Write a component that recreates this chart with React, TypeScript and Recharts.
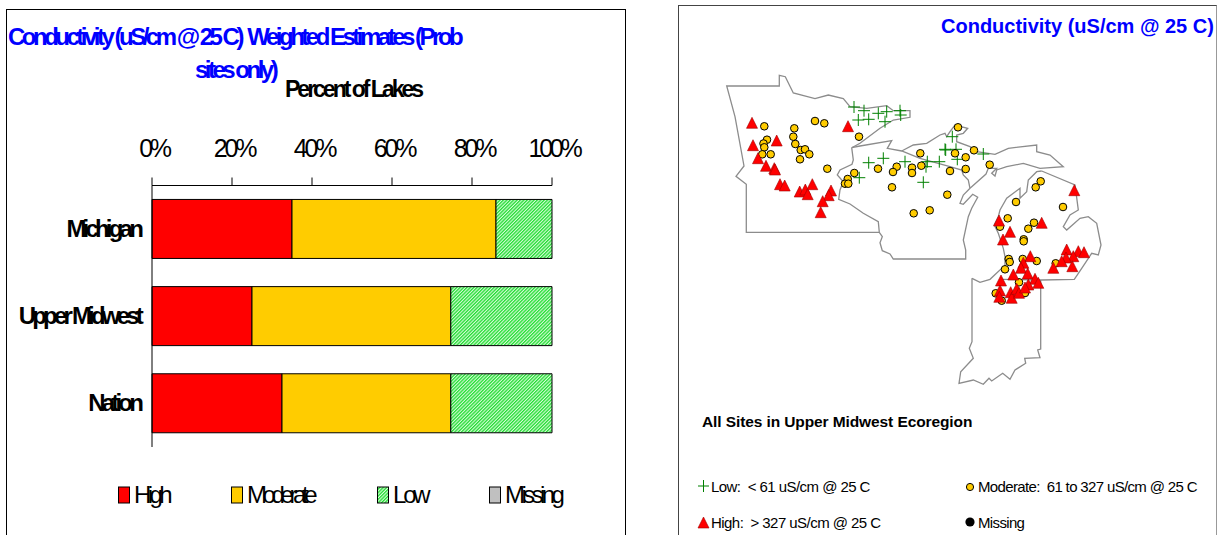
import { BarChart, Bar, XAxis, YAxis, Legend, ScatterChart, Scatter } from "recharts";

const FONT = '"Liberation Sans", Arial, sans-serif';

// left chart
const lakes = ["Michigan", "Upper Midwest", "Nation"];
const high = [35, 25, 32.5];
const moderate = [51, 49.7, 42.2];
const low = [14, 25.3, 25.3];
const missing = [0, 0, 0];
const percentTicks = [0, 20, 40, 60, 80, 100];

const barData = lakes.map((name, i) => ({
  name,
  High: high[i],
  Moderate: moderate[i],
  Low: low[i],
  Missing: missing[i],
}));

const FILLS: Record<string, string> = {
  High: "#ff0000",
  Moderate: "#ffcc00",
  Low: "url(#hatch)",
  Missing: "#c0c0c0",
};
const legendX: Record<string, number> = { High: 118, Moderate: 231, Low: 377, Missing: 489 };
const legendSpacing: Record<string, number> = { High: -3.6, Moderate: -4.4, Low: -3.2, Missing: -3.6 };

// map, values are read in page pixels
type Pt = [number, number];
const minnesotaWest: Pt[] = [
  [851.7, 147.7], [853.3, 160], [852, 164.3], [840, 170], [837.3, 175], [843.3, 181.7], [840, 190], [838.7, 199.3],
  [850, 204], [863.3, 213.3], [878.3, 221.7], [879.3, 232.3], [746.3, 232.3], [746.3, 184.3], [736, 176.3],
  [744, 166], [735, 116.7], [726.7, 86], [779.3, 86], [779.3, 75.3], [785.3, 76.7], [793.3, 93], [815, 98.7],
  [828.3, 95], [843.3, 98.7], [850, 106.7], [866.7, 108.3], [886.7, 105.7], [893.3, 110.7], [910, 110.7],
  [910, 117.3], [893.3, 120], [880, 128.3], [860, 143.3], [851.7, 147.7],
];
const wisconsin: Pt[] = [
  [851.7, 147.7], [860, 146], [891.7, 140.7], [887.3, 148.3], [901.7, 151], [920, 158.3], [950, 166.7], [961.7, 170],
  [963.3, 175], [968.3, 180], [970, 188.3],
];
const wisconsinSouth: Pt[] = [
  [879.3, 232.3], [882.3, 236.7], [880, 242.7], [882.3, 250.7], [890, 254], [893.3, 259], [965.7, 259], [965.7, 250],
  [963.3, 240], [968.3, 216.7], [971.7, 208.3], [977.7, 197.3], [972.7, 194.3], [963.3, 204.3], [960, 203.3],
  [963.3, 195], [970, 188.3],
];
const upperPeninsula: Pt[] = [
  [901.7, 151], [913.3, 145], [926.7, 143.3], [940, 135], [945, 133.3], [946.7, 136.7], [950, 131.7], [955, 125],
  [967.7, 128.3], [963.3, 133.3], [956.7, 135], [956.7, 141.7], [970, 146.7], [976.7, 151.7], [995, 154.3],
  [1008.3, 148.3], [1036.7, 145], [1036.7, 151.7], [1050, 155], [1063.3, 166.7], [1040, 168.3], [1023.3, 163.3],
  [1006.7, 166.7], [996.7, 170], [995, 176], [991.7, 173.3], [996.7, 168.3], [988.3, 168.3], [986, 174], [970, 188.3],
];
const lowerMichigan: Pt[] = [
  [1041.7, 171], [1036.7, 171.7], [1028.3, 180], [1026.7, 191.7], [1020, 198.3], [1020, 188.3], [1006.7, 198.3],
  [1000, 210], [998.3, 216.7], [994.3, 225], [998.3, 233.3], [1003.3, 248.3], [1005, 256.7], [1005, 268.3],
  [1001.7, 268.3], [990, 279.3], [980, 282.3], [972, 278.3],
];
const michiganEast: Pt[] = [
  [1041.7, 171], [1075, 185], [1078.3, 210], [1070, 215], [1063.3, 226.7], [1066.7, 230], [1080, 218.3], [1088.3, 216.7],
  [1096.7, 223.3], [1101, 245], [1098.3, 255], [1091.7, 253.3], [1081.7, 268.3], [1074.3, 279.3], [1041.7, 280],
  [1001.7, 279.3],
];
const indiana: Pt[] = [
  [972, 278.3], [972, 341.7], [969.3, 348.3], [973.3, 358.3], [960.7, 371.7], [959, 383.3], [973.3, 380], [983.3, 384.3],
  [989, 378.3], [991.7, 381], [1002.7, 373.3], [1010, 379.3], [1015, 370], [1025.7, 363.3], [1024.7, 358.3], [1040, 357.7],
  [1037.7, 350], [1040.7, 349], [1040.7, 280],
];
const outlines = [minnesotaWest, wisconsin, wisconsinSouth, upperPeninsula, lowerMichigan, michiganEast, indiana];

const lowSites: Pt[] = [
  [854, 107], [864, 110.7], [878.3, 113.3], [886.7, 111.7], [900, 110.7], [900.7, 115], [858.3, 120], [868.7, 119.3],
  [885, 121.7], [868.7, 162.7], [883.3, 158.3], [859.3, 177.7], [905, 161.7], [927.3, 161.7], [926, 166.7], [939.3, 161.7],
  [945, 149.3], [923.3, 182.3], [952.3, 136.7], [945.7, 150], [956, 149.3], [957.3, 159.3], [983.3, 154],
];
const moderateSites: Pt[] = [
  [764.3, 126.3], [767, 139.7], [763.5, 143.5], [764.3, 147.3], [762.3, 154.3], [770.7, 154.3], [794.3, 128.3], [793.3, 136.7],
  [795.3, 144], [800.7, 150], [805, 149.3], [809.3, 154.3], [800, 159.3], [815, 121], [824.3, 123.3], [859, 136.7],
  [827.3, 168.7], [854.3, 173], [847.7, 179], [845, 183.7], [848.3, 183.7], [878, 168.7], [896.7, 166.7], [893, 172],
  [912, 167.7], [912, 173], [920.3, 153.3], [921.3, 165.7], [892, 187.3], [913.7, 213.3], [929.7, 210.3], [947.3, 194.7],
  [950, 171], [958, 127.3], [955, 153.3], [965.7, 157.3], [974, 150.3], [989.7, 164.7], [965.7, 169], [1040.7, 181.3],
  [1035.7, 187.3], [1016, 202], [1063, 207], [1007.7, 218.3], [1034, 222.7], [1028.3, 228.7], [1000, 226.7], [1023.7, 239.3],
  [1023.7, 241.3], [1008.7, 259], [1009.7, 262], [1005, 269.3], [1022.7, 259], [1036.7, 261], [1055.7, 263.3], [1019, 282.3],
  [995.7, 293.3], [1001.7, 300.7], [1025, 293],
];
const highSites: Pt[] = [
  [752, 123.3], [753, 145.7], [776.7, 141], [758, 158.7], [766, 166.3], [774.3, 168.7], [775, 170], [780, 184.7],
  [784.7, 186], [799.7, 192], [805.3, 190], [807.7, 194.7], [812.3, 184.7], [831, 191], [828.7, 195.7], [822.7, 201.7],
  [820.7, 212.7], [848, 126.7], [1074.3, 190.7], [999, 221], [1010, 232.3], [1041.7, 223.3], [1003, 240], [1030.3, 256.7],
  [1023.3, 263.3], [1021, 268.3], [1013.3, 275], [1027.7, 274], [1001, 281], [1035, 279.3], [1038.3, 283.3], [1028.3, 285],
  [1000, 291], [999.3, 297.3], [1010.7, 292.7], [1011.7, 298.3], [1016.7, 289.3], [1019, 293.3], [1025, 288], [1066.7, 250],
  [1078.3, 251.7], [1084, 252.7], [1073.3, 256.7], [1066, 258], [1061.7, 261.7], [1053.3, 268.3], [1072.3, 266.7],
];

const toPoints = (pts: Pt[]) => pts.map(([x, y]) => ({ x, y }));

const Cross = ({ cx, cy }: any) => (
  <path d={`M${cx - 6} ${cy}H${cx + 6}M${cx} ${cy - 6}V${cy + 6}`} stroke="#008000" strokeWidth={1} fill="none" />
);
const Dot = ({ cx, cy }: any) => <circle cx={cx} cy={cy} r={3.8} fill="#ffcc00" stroke="#000" strokeWidth={1} />;
const Tri = ({ cx, cy }: any) => (
  <path d={`M${cx} ${cy - 6}L${cx + 5.5} ${cy + 5}H${cx - 5.5}Z`} fill="#ff0000" stroke="#a00000" strokeWidth={0.6} />
);

const PercentTick = ({ x, y, payload }: any) => (
  <text x={x + 2} y={y} textAnchor="middle" fontFamily={FONT} fontSize={25} letterSpacing={-3.2} fill="#000">
    {payload.value}%
  </text>
);
const LakeTick = ({ x, y, payload }: any) => (
  <text x={x + 1} y={y + 8} textAnchor="end" fontFamily={FONT} fontSize={24} fontWeight="bold" letterSpacing={-3.8} fill="#000">
    {payload.value}
  </text>
);

const BarLegend = ({ payload }: any) => (
  <div>
    {(payload ?? []).map((item: any) => (
      <div key={item.value} style={{ position: "absolute", left: legendX[item.value], top: 0, display: "flex", alignItems: "center", whiteSpace: "nowrap" }}>
        <svg width={13} height={18} style={{ display: "block" }}>
          <rect x={0.5} y={1} width={11} height={16} fill={FILLS[item.value]} stroke="#000" strokeWidth={1} />
        </svg>
        <span style={{ fontFamily: FONT, fontSize: 24, letterSpacing: legendSpacing[item.value], color: "#000", marginLeft: 3 }}>{item.value}</span>
      </div>
    ))}
  </div>
);

const Txt = ({ x, y, size, spacing, bold, color, children }: any) => (
  <div
    style={{
      position: "absolute",
      left: x,
      top: y,
      fontFamily: FONT,
      fontSize: size,
      lineHeight: 1,
      letterSpacing: spacing,
      fontWeight: bold ? "bold" : "normal",
      color: color ?? "#000",
      whiteSpace: "pre",
    }}
  >
    {children}
  </div>
);

export default function App() {
  return (
    <div style={{ position: "absolute", left: 0, top: 0, width: 1217, height: 535, overflow: "hidden", background: "#fff" }}>
      {/* panel frames */}
      <div style={{ position: "absolute", left: 6, top: 9, width: 618, height: 540, border: "1px solid #000" }} />
      <div style={{ position: "absolute", left: 678, top: 5, width: 537, height: 540, border: "1px solid #444", borderRightColor: "#999" }} />

      <div style={{ position: "absolute", left: 0, top: 0 }}>
        <BarChart
          width={640}
          height={535}
          layout="vertical"
          data={barData}
          barCategoryGap="16%"
          margin={{ top: 125.5, left: 2, right: 88, bottom: 88 }}
        >
          <defs>
            <pattern id="hatch" patternUnits="userSpaceOnUse" width={2.4} height={2.4} patternTransform="rotate(-45)">
              <rect width={2.4} height={2.4} fill="#d8fbd8" />
              <rect width={2.4} height={1.3} fill="#22dd33" />
            </pattern>
          </defs>
          <XAxis
            type="number"
            orientation="top"
            height={60}
            domain={[0, 100]}
            ticks={percentTicks}
            interval={0}
            tickSize={8}
            tickMargin={21}
            tick={<PercentTick />}
            stroke="#000"
          />
          <YAxis type="category" dataKey="name" width={150} tickLine={false} tickMargin={7} tick={<LakeTick />} stroke="#000" />
          <Legend
            layout="horizontal"
            verticalAlign="middle"
            align="center"
            wrapperStyle={{ left: 0, top: 481, width: 640, height: 24 }}
            content={<BarLegend />}
          />
          <Bar dataKey="High" stackId="a" fill={FILLS.High} stroke="#000" isAnimationActive={false} />
          <Bar dataKey="Moderate" stackId="a" fill={FILLS.Moderate} stroke="#000" isAnimationActive={false} />
          <Bar dataKey="Low" stackId="a" fill={FILLS.Low} stroke="#000" isAnimationActive={false} />
          <Bar dataKey="Missing" stackId="a" fill={FILLS.Missing} stroke="#000" isAnimationActive={false} />
        </BarChart>
      </div>

      <div style={{ position: "absolute", left: 678, top: 0 }}>
        <ScatterChart width={539} height={535} margin={{ top: 0, left: 0, right: 0, bottom: 0 }}>
          <XAxis type="number" dataKey="x" domain={[678, 1217]} hide />
          <YAxis type="number" dataKey="y" domain={[0, 535]} reversed hide />
          {outlines.map((o, i) => (
            <Scatter
              key={i}
              data={toPoints(o)}
              line={{ stroke: "#8c8c8c", strokeWidth: 1.3 }}
              shape={() => null}
              isAnimationActive={false}
            />
          ))}
          <Scatter data={toPoints(lowSites)} shape={<Cross />} isAnimationActive={false} />
          <Scatter data={toPoints(moderateSites)} shape={<Dot />} isAnimationActive={false} />
          <Scatter data={toPoints(highSites)} shape={<Tri />} isAnimationActive={false} />
        </ScatterChart>
      </div>

      {/* left headings */}
      <Txt x={8} y={25} size={24} spacing={-3.5} bold color="#0000ff">
        {"Conductivity (uS/cm @ 25 C)  Weighted Estimates (Prob"}
      </Txt>
      <Txt x={195} y={58} size={24} spacing={-3.5} bold color="#0000ff">
        {"sites only)"}
      </Txt>
      <Txt x={285} y={78} size={23} spacing={-3} bold>
        Percent of Lakes
      </Txt>

      {/* right headings and key */}
      <Txt x={941} y={16} size={20} spacing={0} bold color="#0000ff">
        {"Conductivity (uS/cm @ 25 C)"}
      </Txt>
      <Txt x={702} y={414} size={15.5} spacing={-0.1} bold>
        All Sites in Upper Midwest Ecoregion
      </Txt>

      <svg style={{ position: "absolute", left: 678, top: 470 }} width={300} height={60}>
        <path d="M20 16H31M25.5 10V22" stroke="#008000" fill="none" />
        <path d="M20 58L25.5 47L31 58Z" fill="#ff0000" stroke="#a00000" strokeWidth={0.6} />
        <circle cx={292} cy={17} r={3.6} fill="#ffcc00" stroke="#000" />
        <circle cx={292} cy={52} r={4.6} fill="#000" />
      </svg>
      <Txt x={711} y={479} size={15} spacing={-0.55}>{"Low:  < 61 uS/cm @ 25 C"}</Txt>
      <Txt x={711} y={515} size={15} spacing={-0.55}>{"High:  > 327 uS/cm @ 25 C"}</Txt>
      <Txt x={978} y={479} size={15} spacing={-0.65}>{"Moderate:  61 to 327 uS/cm @ 25 C"}</Txt>
      <Txt x={978} y={515} size={15} spacing={-0.65}>Missing</Txt>
    </div>
  );
}
